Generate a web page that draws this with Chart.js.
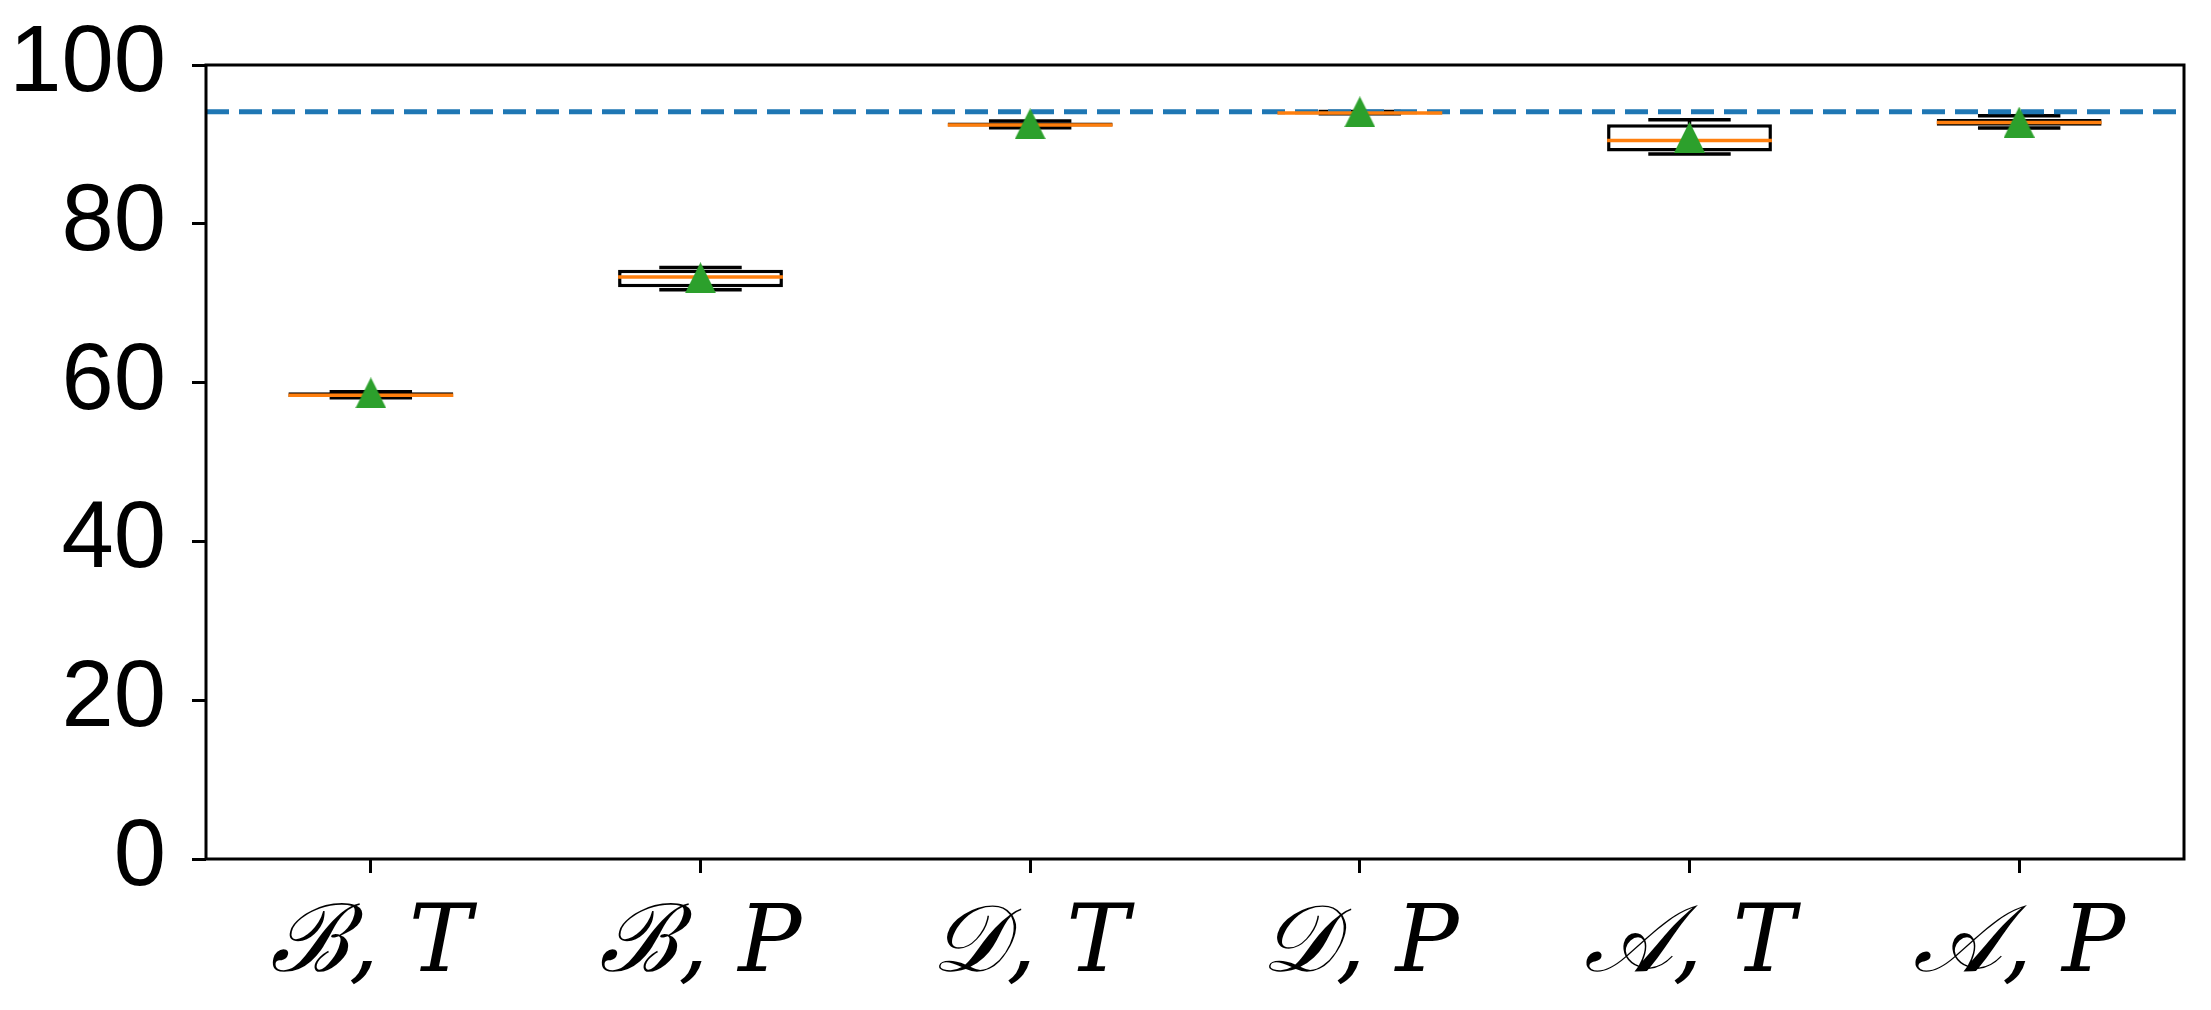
<!DOCTYPE html>
<html>
<head>
<meta charset="utf-8">
<title>Box plot</title>
<script src="https://cdn.jsdelivr.net/npm/chart.js@4.4.1/dist/chart.umd.min.js"></script>
<style>
  body { margin: 0; background: #fff; }
  #wrap { width: 2211px; height: 1010px; }
</style>
</head>
<body>
<div id="wrap"><canvas id="boxChart" width="2211" height="1010"></canvas></div>
<script>
// Categories and box statistics
const categories = ['ℬ, T', 'ℬ, P', '𝒟, T', '𝒟, P', '𝒜, T', '𝒜, P'];
const whiskerLow  = [58.1, 71.7, 92.1, 93.85, 88.8, 92.05];
const q1          = [58.2, 72.0, 92.25, 93.93, 89.1, 92.35];
const median      = [58.4, 73.3, 92.45, 93.97, 90.5, 92.75];
const q3          = [58.8, 74.2, 92.75, 94.05, 92.55, 93.2];
const whiskerHigh = [58.85, 74.5, 92.95, 94.15, 93.1, 93.6];
const means       = [58.7, 73.2, 92.6, 94.1, 90.9, 92.8];
const referenceLine = 94.1;
const yTicks = [0, 20, 40, 60, 80, 100];

// Triangle marker like matplotlib '^'
function makeTriangle(size, color) {
    const c = document.createElement('canvas');
    c.width = size;
    c.height = size;
    const g = c.getContext('2d');
    g.fillStyle = color;
    g.beginPath();
    g.moveTo(size / 2, 0);
    g.lineTo(size, size);
    g.lineTo(0, size);
    g.closePath();
    g.fill();
    return c;
}

// Whiskers, medians, reference line and frame
const boxPlotParts = {
    id: 'boxPlotParts',
    beforeDatasetsDraw(chart) {
        const { ctx, chartArea, scales: { y } } = chart;
        const boxes = chart.getDatasetMeta(0).data;

        ctx.save();
        ctx.strokeStyle = '#000';
        ctx.lineWidth = 3.5;
        boxes.forEach((bar, i) => {
            const cx = bar.x;
            const half = bar.width / 4;
            const yLow = y.getPixelForValue(whiskerLow[i]);
            const yHigh = y.getPixelForValue(whiskerHigh[i]);
            const yQ1 = y.getPixelForValue(q1[i]);
            const yQ3 = y.getPixelForValue(q3[i]);
            ctx.beginPath();
            ctx.moveTo(cx, yQ1); ctx.lineTo(cx, yLow);
            ctx.moveTo(cx, yQ3); ctx.lineTo(cx, yHigh);
            ctx.moveTo(cx - half, yLow); ctx.lineTo(cx + half, yLow);
            ctx.moveTo(cx - half, yHigh); ctx.lineTo(cx + half, yHigh);
            ctx.stroke();
        });
        ctx.restore();

        // dashed reference line
        ctx.save();
        ctx.strokeStyle = '#1f77b4';
        ctx.lineWidth = 5;
        ctx.setLineDash([23, 10]);
        const ry = y.getPixelForValue(referenceLine);
        ctx.beginPath();
        ctx.moveTo(chartArea.left, ry);
        ctx.lineTo(chartArea.right, ry);
        ctx.stroke();
        ctx.restore();
    },
    afterDatasetDraw(chart, args) {
        if (args.index !== 0) return;
        const { ctx, scales: { y } } = chart;
        ctx.save();
        ctx.strokeStyle = '#ff7f0e';
        ctx.lineWidth = 3.5;
        args.meta.data.forEach((bar, i) => {
            const my = y.getPixelForValue(median[i]);
            ctx.beginPath();
            ctx.moveTo(bar.x - bar.width / 2, my);
            ctx.lineTo(bar.x + bar.width / 2, my);
            ctx.stroke();
        });
        ctx.restore();
    },
    afterDraw(chart) {
        const { ctx, chartArea } = chart;
        ctx.save();
        ctx.strokeStyle = '#000';
        ctx.lineWidth = 3;
        ctx.strokeRect(chartArea.left, chartArea.top,
            chartArea.right - chartArea.left, chartArea.bottom - chartArea.top);
        ctx.restore();
    }
};

const ctx = document.getElementById('boxChart').getContext('2d');
new Chart(ctx, {
    type: 'bar',
    data: {
        labels: categories,
        datasets: [{
            label: 'box',
            data: categories.map((_, i) => [q1[i], q3[i]]),
            backgroundColor: '#ffffff',
            borderColor: '#000000',
            borderWidth: 3.5,
            borderSkipped: false,
            barPercentage: 0.5,
            categoryPercentage: 1.0,
            order: 2
        }, {
            type: 'line',
            label: 'mean',
            data: means,
            showLine: false,
            pointStyle: makeTriangle(31, '#2ca02c'),
            pointRadius: 16,
            order: 1
        }]
    },
    options: {
        responsive: false,
        animation: false,
        layout: { padding: { left: 0, top: 65, right: 27, bottom: 0 } },
        plugins: {
            legend: { display: false },
            tooltip: { enabled: false }
        },
        scales: {
            x: {
                offset: true,
                border: { display: false },
                grid: {
                    offset: false,
                    drawOnChartArea: false,
                    drawTicks: true,
                    tickLength: 14,
                    tickWidth: 3,
                    color: '#000'
                },
                ticks: {
                    color: '#000',
                    padding: 17,
                    maxRotation: 0,
                    font: { family: "'DejaVu Serif', 'Liberation Serif', serif", style: 'italic', size: 94 }
                },
                afterFit(scale) { scale.height = 1010 - 859; }
            },
            y: {
                min: 0,
                max: 100,
                border: { display: false },
                grid: {
                    drawOnChartArea: false,
                    drawTicks: true,
                    tickLength: 14,
                    tickWidth: 3,
                    color: '#000'
                },
                ticks: {
                    color: '#000',
                    padding: 26,
                    font: { family: "'Liberation Sans', sans-serif", size: 94, lineHeight: 0.1 }
                },
                afterBuildTicks(scale) { scale.ticks = yTicks.map(v => ({ value: v })); },
                afterFit(scale) { scale.width = 206; }
            }
        }
    },
    plugins: [boxPlotParts]
});
</script>
</body>
</html>
